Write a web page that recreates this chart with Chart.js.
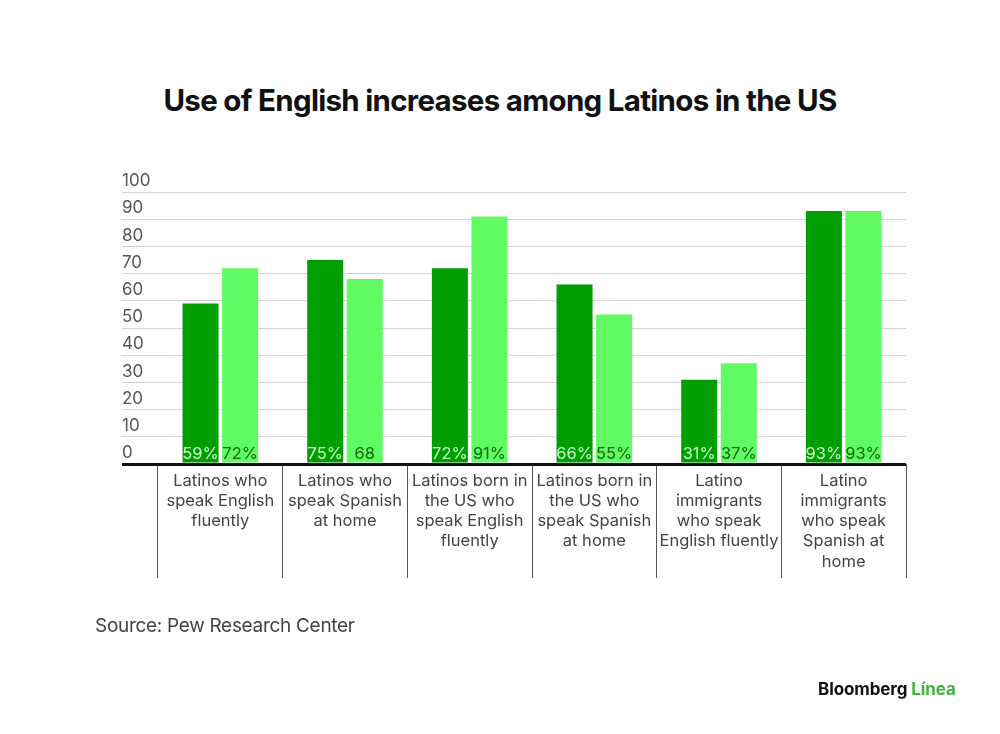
<!DOCTYPE html>
<html>
<head>
<meta charset="utf-8">
<script src="https://cdn.jsdelivr.net/npm/chart.js@4"></script>
<style>
  html, body { margin: 0; padding: 0; background: #fff; }
  #wrap { position: relative; width: 1000px; height: 734px; overflow: hidden; font-family: Inter, "Liberation Sans", sans-serif; }
  #titulo { position: absolute; top: 82px; left: 0; width: 1000px; text-align: center; font-size: 29.5px; font-weight: 700; color: #111; letter-spacing: -0.7px; }
  #fonte { position: absolute; top: 614px; left: 95px; font-size: 19px; color: #444; letter-spacing: -0.3px; }
  #logo { position: absolute; top: 679px; left: 818px; font-size: 17px; font-weight: 700; color: #111; letter-spacing: -0.1px; }
  #logo span { color: #3cb43c; }
  canvas { position: absolute; top: 0; left: 0; }
</style>
</head>
<body>
<div id="wrap">
  <div id="titulo">Use of English increases among Latinos in the US</div>
  <canvas id="grafico" width="1000" height="734"></canvas>
  <div id="fonte">Source: Pew Research Center</div>
  <div id="logo">Bloomberg <span>Línea</span></div>
</div>
<script>
// Categorias (cada uma em várias linhas)
const categorias = [
  ['Latinos who', 'speak English', 'fluently'],
  ['Latinos who', 'speak Spanish', 'at home'],
  ['Latinos born in', 'the US who', 'speak English', 'fluently'],
  ['Latinos born in', 'the US who', 'speak Spanish', 'at home'],
  ['Latino', 'immigrants', 'who speak', 'English fluently'],
  ['Latino', 'immigrants', 'who speak', 'Spanish at', 'home']
];

// Valores das duas séries
const serieEscura = [59, 75, 72, 66, 31, 93];
const serieClara = [72, 68, 91, 55, 37, 93];

// Rótulos escritos na base das barras
const rotulosEscura = ['59%', '75%', '72%', '66%', '31%', '93%'];
const rotulosClara = ['72%', '68', '91%', '55%', '37%', '93%'];

const corEscura = '#009e00';
const corClara = '#62fa62';

// Plugin simples para escrever os rótulos na base de cada barra
const rotulosBase = {
  id: 'rotulosBase',
  afterDatasetsDraw(chart) {
    const c = chart.ctx;
    const base = chart.scales.y.getPixelForValue(0);
    const listas = [rotulosEscura, rotulosClara];
    const cores = ['#c8ffc8', '#0a6a0a'];
    c.save();
    c.font = '16.5px Inter, "Liberation Sans", sans-serif';
    c.textAlign = 'center';
    c.textBaseline = 'alphabetic';
    chart.data.datasets.forEach((ds, i) => {
      const meta = chart.getDatasetMeta(i);
      meta.data.forEach((barra, j) => {
        c.fillStyle = cores[i];
        c.fillText(listas[i][j], barra.x, base - 5);
      });
    });
    c.restore();
  }
};

const ctx = document.getElementById('grafico').getContext('2d');

new Chart(ctx, {
  type: 'bar',
  data: {
    labels: categorias,
    datasets: [
      { label: 'Série 1', data: serieEscura, backgroundColor: corEscura, borderWidth: 0 },
      { label: 'Série 2', data: serieClara, backgroundColor: corClara, borderWidth: 0 }
    ]
  },
  options: {
    responsive: false,
    animation: false,
    categoryPercentage: 0.635,
    barPercentage: 0.91,
    layout: {
      padding: { left: 122, right: 94, top: 192, bottom: 150 }
    },
    plugins: {
      legend: { display: false },
      tooltip: { enabled: false }
    },
    scales: {
      x: {
        afterFit: (s) => { s.height = 120; },
        border: { display: false },
        grid: {
          offset: true,
          drawOnChartArea: false,
          drawTicks: true,
          tickLength: 114,
          color: '#555',
          lineWidth: 1
        },
        ticks: {
          padding: -107,
          color: '#444',
          font: { family: 'Inter, "Liberation Sans", sans-serif', size: 16.5, lineHeight: 1.22 },
          maxRotation: 0,
          autoSkip: false
        }
      },
      y: {
        min: 0,
        max: 100,
        afterFit: (s) => { s.width = 36; },
        border: { display: false },
        grid: {
          tickLength: 36,
          color: (c) => c.tick && c.tick.value === 0 ? '#111' : '#d4d4d4',
          lineWidth: (c) => c.tick && c.tick.value === 0 ? 3 : 1
        },
        ticks: {
          stepSize: 10,
          crossAlign: 'far',
          labelOffset: -11,
          padding: 0,
          color: '#555',
          font: { family: 'Inter, "Liberation Sans", sans-serif', size: 17 }
        }
      }
    }
  },
  plugins: [rotulosBase]
});
</script>
</body>
</html>
